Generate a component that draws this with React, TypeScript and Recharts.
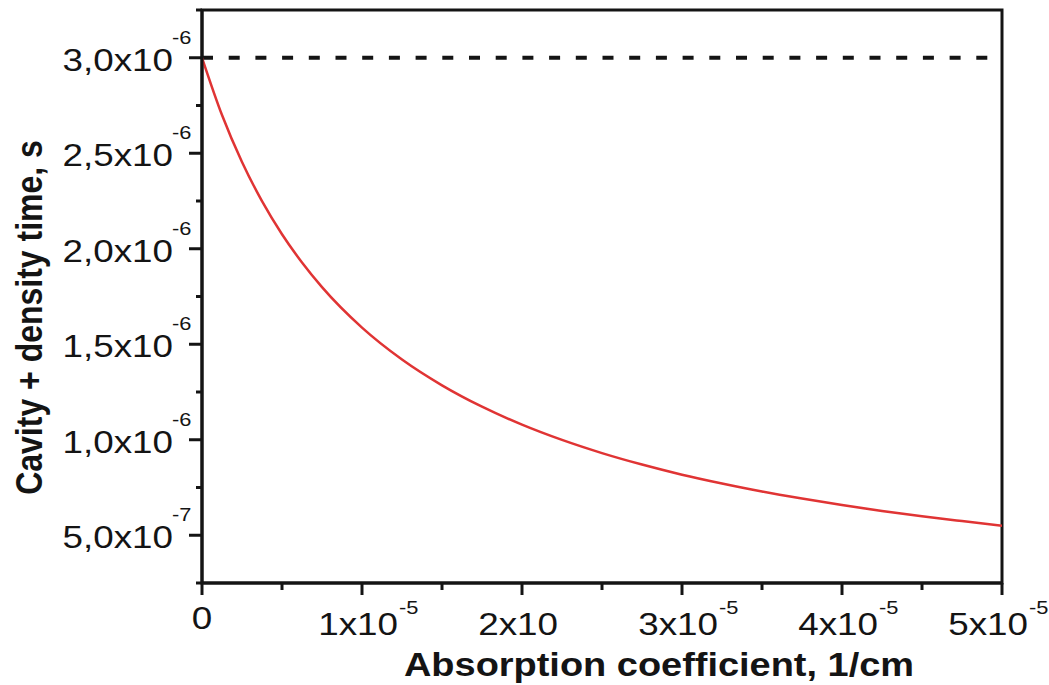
import React from 'react'
import {
  LineChart,
  Line,
  XAxis,
  YAxis,
  ReferenceLine,
  ReferenceArea,
} from 'recharts'

// absorption coefficient (1/cm) and cavity + density time (s)
const absorption = [
  0, 0.125e-5, 0.25e-5, 0.375e-5, 0.5e-5, 0.625e-5, 0.75e-5, 1e-5, 1.25e-5, 1.5e-5,
  1.75e-5, 2e-5, 2.25e-5, 2.5e-5, 2.75e-5, 3e-5, 3.25e-5, 3.5e-5, 3.75e-5, 4e-5,
  4.25e-5, 4.5e-5, 4.75e-5, 5e-5,
]
const decayTime = [
  3.0e-6, 2.7e-6, 2.454e-6, 2.249e-6, 2.076e-6, 1.928e-6, 1.799e-6, 1.587e-6, 1.42e-6,
  1.285e-6, 1.173e-6, 1.079e-6, 0.999e-6, 0.93e-6, 0.87e-6, 0.817e-6, 0.771e-6,
  0.729e-6, 0.692e-6, 0.658e-6, 0.627e-6, 0.599e-6, 0.574e-6, 0.55e-6,
]
const emptyCavityTime = 3.0e-6

const xMajor = [0, 1e-5, 2e-5, 3e-5, 4e-5, 5e-5]
const xMinor = [0.5e-5, 1.5e-5, 2.5e-5, 3.5e-5, 4.5e-5]
const xTickText = ['0', '1x10', '2x10', '3x10', '4x10', '5x10']
const xTickExp = ['', '-5', '', '-5', '-5', '-5']

const yMajor = [0.5e-6, 1e-6, 1.5e-6, 2e-6, 2.5e-6, 3e-6]
const yMinor = [0.25e-6, 0.75e-6, 1.25e-6, 1.75e-6, 2.25e-6, 2.75e-6, 3.25e-6]
const yTickText = ['5,0x10', '1,0x10', '1,5x10', '2,0x10', '2,5x10', '3,0x10']
const yTickExp = ['-7', '-6', '-6', '-6', '-6', '-6']

const data = absorption.map((a, i) => ({ a, t: decayTime[i] }))

const FONT = '"Liberation Sans", Arial, Helvetica, sans-serif'
const INK = '#141414'
const STRETCH = 'scale(1.15,1)'

const findIndex = (list: number[], v: number) =>
  list.findIndex((m) => Math.abs(m - v) < Math.abs(m) * 1e-6 + 1e-15)

function XTick(props: any) {
  const { x, y, payload } = props
  const i = findIndex(xMajor, payload.value)
  if (i < 0) {
    return <line x1={x} x2={x} y1={y} y2={y + 7} stroke={INK} strokeWidth={3} />
  }
  const last = i === xMajor.length - 1
  const endX = x + (last ? 26 : 36)
  return (
    <g>
      <line x1={x} x2={x} y1={y} y2={y + 12} stroke={INK} strokeWidth={3} />
      {payload.value === 0 ? (
        <text
          transform={`translate(${x},${y + 46}) ${STRETCH}`}
          textAnchor="middle"
          fontSize={32}
          fontFamily={FONT}
          fill={INK}
        >
          {xTickText[i]}
        </text>
      ) : (
        <>
          <text
            transform={`translate(${endX},${y + 52}) ${STRETCH}`}
            textAnchor="end"
            fontSize={32}
            fontFamily={FONT}
            fill={INK}
          >
            {xTickText[i]}
          </text>
          {xTickExp[i] && (
            <text
              transform={`translate(${endX + 1},${y + 31}) ${STRETCH}`}
              textAnchor="start"
              fontSize={19}
              fontFamily={FONT}
              fill={INK}
            >
              {xTickExp[i]}
            </text>
          )}
        </>
      )}
    </g>
  )
}

function YTick(props: any) {
  const { x, y, payload } = props
  const i = findIndex(yMajor, payload.value)
  if (i < 0) {
    return <line x1={x - 6} x2={x} y1={y} y2={y} stroke={INK} strokeWidth={3} />
  }
  return (
    <g>
      <line x1={x - 13} x2={x} y1={y} y2={y} stroke={INK} strokeWidth={3} />
      <text
        transform={`translate(${x - 29},${y + 13}) ${STRETCH}`}
        textAnchor="end"
        fontSize={32}
        fontFamily={FONT}
        fill={INK}
      >
        {yTickText[i]}
      </text>
      <text
        transform={`translate(${x - 30},${y - 14}) ${STRETCH}`}
        textAnchor="start"
        fontSize={19}
        fontFamily={FONT}
        fill={INK}
      >
        {yTickExp[i]}
      </text>
    </g>
  )
}

function XTitle(props: any) {
  const vb = props.viewBox || { x: 202, y: 583 }
  return (
    <text
      transform={`translate(${vb.x + 457},${vb.y + 93}) ${STRETCH}`}
      textAnchor="middle"
      fontSize={33}
      fontWeight="bold"
      fontFamily={FONT}
      fill={INK}
    >
      Absorption coefficient, 1/cm
    </text>
  )
}

function YTitle(props: any) {
  const vb = props.viewBox || { y: 10, height: 573 }
  return (
    <text
      transform={`translate(42,${vb.y + vb.height / 2 + 21}) ${STRETCH} rotate(-90)`}
      textAnchor="middle"
      fontSize={32}
      fontWeight="bold"
      fontFamily={FONT}
      fill={INK}
    >
      Cavity + density time, s
    </text>
  )
}

export default function App() {
  return (
    <div style={{ position: 'absolute', left: 0, top: 0, width: 1049, height: 685, background: '#fff' }}>
      <LineChart
        width={1049}
        height={685}
        data={data}
        margin={{ top: 10, right: 47, bottom: 0, left: 0 }}
      >
        <XAxis
          dataKey="a"
          type="number"
          domain={[0, 5e-5]}
          ticks={[...xMajor, ...xMinor].sort((p, q) => p - q)}
          interval={0}
          height={102}
          tickSize={0}
          tickMargin={0}
          tickLine={false}
          axisLine={{ stroke: INK, strokeWidth: 3 }}
          tick={(p: any) => <XTick {...p} />}
          allowDataOverflow
          label={<XTitle />}
        />
        <YAxis
          type="number"
          domain={[0.25e-6, 3.25e-6]}
          ticks={[...yMajor, ...yMinor].sort((p, q) => p - q)}
          interval={0}
          width={202}
          tickSize={0}
          tickMargin={0}
          tickLine={false}
          axisLine={{ stroke: INK, strokeWidth: 3 }}
          tick={(p: any) => <YTick {...p} />}
          allowDataOverflow
          label={<YTitle />}
        />
        <ReferenceArea
          x1={0}
          x2={5e-5}
          y1={0.25e-6}
          y2={3.25e-6}
          fill="none"
          stroke={INK}
          strokeWidth={3}
        />
        <ReferenceLine
          y={emptyCavityTime}
          stroke={INK}
          strokeWidth={4}
          strokeDasharray="11 15.7"
        />
        <Line
          type="monotone"
          dataKey="t"
          stroke="#e03434"
          strokeWidth={2.5}
          dot={false}
          activeDot={false}
          isAnimationActive={false}
        />
      </LineChart>
    </div>
  )
}
